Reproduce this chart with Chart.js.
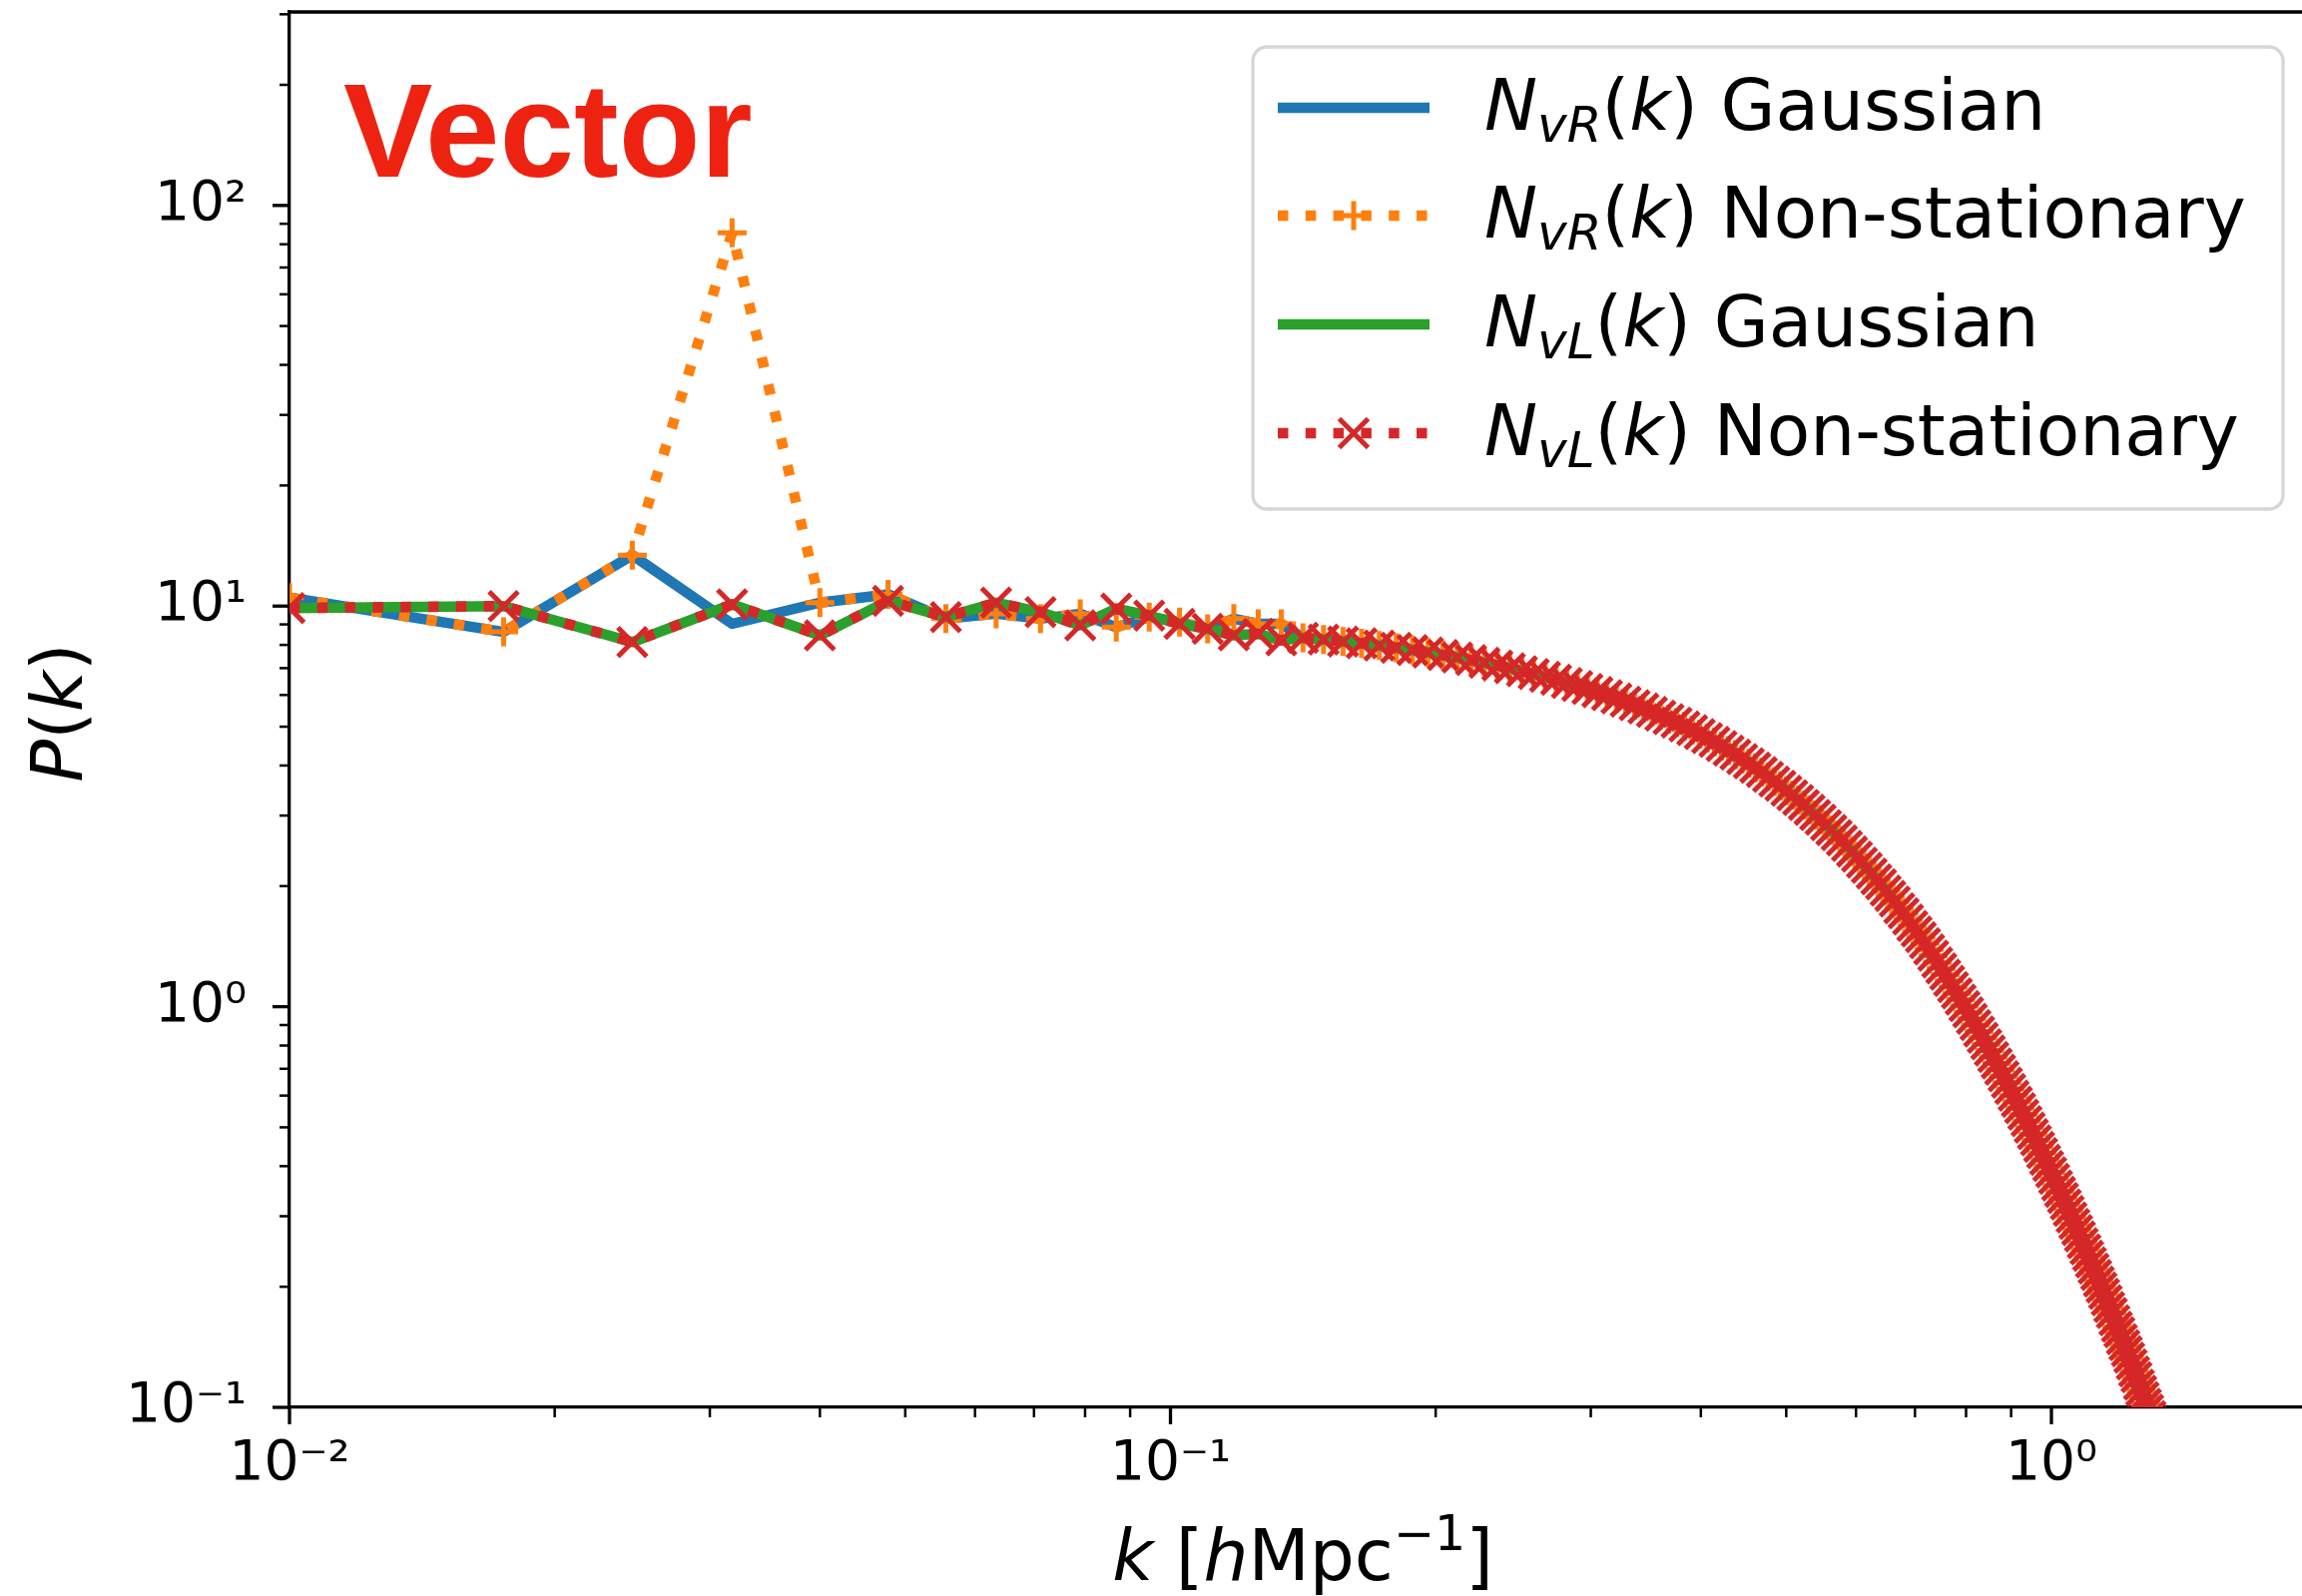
<!DOCTYPE html>
<html>
<head>
<meta charset="utf-8">
<script src="https://cdn.jsdelivr.net/npm/chart.js@4.4.1/dist/chart.umd.min.js"></script>
<style>
  html, body { margin: 0; padding: 0; background: #fff; }
  #wrap { width: 2306px; height: 1599px; }
</style>
</head>
<body>
<div id="wrap"><canvas id="myChart" width="2306" height="1599"></canvas></div>
<script>
// k [h/Mpc] : first bins are a bit irregular, then ~0.0078 spacing
const kLow = [0.0100, 0.0175, 0.0245, 0.0318];
const kGrid = [0.0400, 0.0478, 0.0556, 0.0634, 0.0712, 0.0790, 0.0868, 0.0946, 0.1024, 0.1102,
  0.1180, 0.1258, 0.1336, 0.1414, 0.1492, 0.1570, 0.1648, 0.1726, 0.1804, 0.1882,
  0.1960, 0.2038, 0.2116, 0.2194, 0.2272, 0.2350, 0.2428, 0.2506, 0.2584, 0.2662,
  0.2740, 0.2818, 0.2896, 0.2974, 0.3052, 0.3130, 0.3208, 0.3286, 0.3364, 0.3442,
  0.3520, 0.3598, 0.3676, 0.3754, 0.3832, 0.3910, 0.3988, 0.4066, 0.4144, 0.4222,
  0.4300, 0.4378, 0.4456, 0.4534, 0.4612, 0.4690, 0.4768, 0.4846, 0.4924, 0.5002,
  0.5080, 0.5158, 0.5236, 0.5314, 0.5392, 0.5470, 0.5548, 0.5626, 0.5704, 0.5782,
  0.5860, 0.5938, 0.6016, 0.6094, 0.6172, 0.6250, 0.6328, 0.6406, 0.6484, 0.6562,
  0.6640, 0.6718, 0.6796, 0.6874, 0.6952, 0.7030, 0.7108, 0.7186, 0.7264, 0.7342,
  0.7420, 0.7498, 0.7576, 0.7654, 0.7732, 0.7810, 0.7888, 0.7966, 0.8044, 0.8122,
  0.8200, 0.8278, 0.8356, 0.8434, 0.8512, 0.8590, 0.8668, 0.8746, 0.8824, 0.8902,
  0.8980, 0.9058, 0.9136, 0.9214, 0.9292, 0.9370, 0.9448, 0.9526, 0.9604, 0.9682,
  0.9760, 0.9838, 0.9916, 0.9994, 1.0072, 1.0150, 1.0228, 1.0306, 1.0384, 1.0462,
  1.0540, 1.0618, 1.0696, 1.0774, 1.0852, 1.0930, 1.1008, 1.1086, 1.1164, 1.1242,
  1.1320, 1.1398, 1.1476, 1.1554, 1.1632, 1.1710, 1.1788, 1.1866, 1.1944, 1.2022,
  1.2100, 1.2178, 1.2256, 1.2334, 1.2412, 1.2490, 1.2568, 1.2646, 1.2724, 1.2802,
  1.2880, 1.2958, 1.3036, 1.3114, 1.3192];

// low-k part of each curve (k = 0.0100 ... 0.1336)
const nvrGauss   = [10.5, 8.62, 13.4, 9.03, 10.2, 10.7, 9.30, 9.57, 9.30, 9.57, 8.86, 9.39, 9.12, 8.78, 9.30, 9.03, 9.03];
const nvrNonStat = [10.5, 8.62, 13.4, 85.5, 10.2, 10.7, 9.30, 9.57, 9.30, 9.57, 8.86, 9.39, 9.12, 8.78, 9.30, 9.03, 9.03];
const nvlGauss   = [9.89, 10.0, 8.13, 10.1, 8.45, 10.3, 9.39, 10.2, 9.66, 8.95, 9.85, 9.47, 9.03, 8.78, 8.45, 8.53, 8.21];
const nvlNonStat = [9.89, 10.0, 8.13, 10.1, 8.45, 10.3, 9.39, 10.2, 9.66, 8.95, 9.85, 9.47, 9.03, 8.78, 8.45, 8.53, 8.21];

// high-k part, all four curves lie on top of each other (k = 0.1414 ... 1.3192)
const pTail = [8.33, 8.25, 8.16, 8.07, 7.97, 7.87, 7.77, 7.66,
  7.55, 7.44, 7.33, 7.22, 7.11, 7.00, 6.88, 6.77, 6.66, 6.55,
  6.43, 6.32, 6.21, 6.10, 5.99, 5.88, 5.77, 5.66, 5.55, 5.44,
  5.33, 5.22, 5.12, 5.01, 4.90, 4.79, 4.68, 4.58, 4.47, 4.36,
  4.26, 4.15, 4.05, 3.95, 3.85, 3.75, 3.65, 3.56, 3.46, 3.37,
  3.28, 3.19, 3.10, 3.01, 2.93, 2.84, 2.76, 2.68, 2.60, 2.52,
  2.44, 2.37, 2.29, 2.22, 2.15, 2.08, 2.02, 1.95, 1.89, 1.83,
  1.76, 1.71, 1.65, 1.59, 1.54, 1.49, 1.44, 1.39, 1.34, 1.29,
  1.246, 1.202, 1.160, 1.119, 1.079, 1.041, 1.004, 0.968, 0.933, 0.900,
  0.867, 0.836, 0.806, 0.777, 0.749, 0.722, 0.696, 0.671, 0.646, 0.623,
  0.600, 0.579, 0.558, 0.538, 0.518, 0.499, 0.481, 0.464, 0.447, 0.431,
  0.415, 0.400, 0.386, 0.372, 0.358, 0.345, 0.333, 0.321, 0.309, 0.298,
  0.287, 0.277, 0.267, 0.257, 0.248, 0.239, 0.230, 0.222, 0.214, 0.206,
  0.199, 0.192, 0.185, 0.178, 0.172, 0.165, 0.159, 0.154, 0.148, 0.143,
  0.138, 0.133, 0.128, 0.123, 0.119, 0.114, 0.110, 0.106, 0.102, 0.0987,
  0.0951, 0.0917, 0.0884, 0.0852];

// axis ticks
const xMajor = [0.01, 0.1, 1];
const xMajorLabels = ['10\u207B\u00B2', '10\u207B\u00B9', '10\u2070'];
const xMinor = [0.02, 0.03, 0.04, 0.05, 0.06, 0.07, 0.08, 0.09, 0.2, 0.3, 0.4, 0.5, 0.6, 0.7, 0.8, 0.9];
const yMajor = [0.1, 1, 10, 100];
const yMajorLabels = ['10\u207B\u00B9', '10\u2070', '10\u00B9', '10\u00B2'];
const yMinor = [0.2, 0.3, 0.4, 0.5, 0.6, 0.7, 0.8, 0.9, 2, 3, 4, 5, 6, 7, 8, 9,
  20, 30, 40, 50, 60, 70, 80, 90, 200, 300];

const legendNames = ['Gaussian', 'Non-stationary', 'Gaussian', 'Non-stationary'];
const legendSubs = ['vR', 'vR', 'vL', 'vL'];

const kAll = kLow.concat(kGrid);
function toXY(lowVals) {
  return lowVals.concat(pTail).map((p, i) => ({ x: kAll[i], y: p }));
}

const LW = 10.5;
const DOTS = [10.5, 17.3];
const colors = ['#1f77b4', '#ff7f0e', '#2ca02c', '#d62728'];

function tickLabel(v, majors, labels) {
  for (let i = 0; i < majors.length; i++) {
    if (Math.abs(v - majors[i]) < majors[i] * 1e-6) return labels[i];
  }
  return '';
}

// draws a string made of pieces with their own font / vertical shift
function drawRich(ctx, parts, x, y, align) {
  let total = 0;
  parts.forEach(p => { ctx.font = p[1]; total += ctx.measureText(p[0]).width; });
  let cx = align === 'center' ? x - total / 2 : x;
  parts.forEach(p => {
    ctx.font = p[1];
    ctx.fillText(p[0], cx, y + (p[2] || 0));
    cx += ctx.measureText(p[0]).width;
  });
}

const FF = '"DejaVu Sans"';
const it71 = 'italic 71px ' + FF;
const n71 = '71px ' + FF;
const it50 = 'italic 50px ' + FF;
const n49 = '49px ' + FF;

const extras = {
  id: 'extras',
  afterDraw(chart) {
    const ctx = chart.ctx;
    const area = chart.chartArea;
    const xs = chart.scales.x, ys = chart.scales.y;
    ctx.save();
    ctx.strokeStyle = '#000';
    ctx.lineCap = 'butt';

    // top spine
    ctx.lineWidth = 3.3;
    ctx.beginPath();
    ctx.moveTo(area.left - 1.6, area.top);
    ctx.lineTo(area.right, area.top);
    ctx.stroke();

    // tick marks, major longer than minor
    xs.ticks.forEach(t => {
      const px = xs.getPixelForValue(t.value);
      const major = tickLabel(t.value, xMajor, xMajorLabels) !== '';
      ctx.lineWidth = major ? 3.3 : 2.5;
      ctx.beginPath();
      ctx.moveTo(px, area.bottom);
      ctx.lineTo(px, area.bottom + (major ? 17 : 10));
      ctx.stroke();
    });
    ys.ticks.forEach(t => {
      const py = ys.getPixelForValue(t.value);
      const major = tickLabel(t.value, yMajor, yMajorLabels) !== '';
      ctx.lineWidth = major ? 3.3 : 2.5;
      ctx.beginPath();
      ctx.moveTo(area.left, py);
      ctx.lineTo(area.left - (major ? 17 : 10), py);
      ctx.stroke();
    });

    // axis titles
    ctx.fillStyle = '#000';
    ctx.textBaseline = 'alphabetic';
    ctx.textAlign = 'left';
    drawRich(ctx, [['k', it71], [' [', n71], ['h', it71], ['Mpc', n71], ['\u22121', n49, -30], [']', n71]], 1305, 1583, 'center');
    ctx.save();
    ctx.translate(82, 714);
    ctx.rotate(-Math.PI / 2);
    drawRich(ctx, [['P', it71], ['(', n71], ['k', it71], [')', n71]], 0, 0, 'center');
    ctx.restore();

    // panel tag
    ctx.fillStyle = '#ee2211';
    ctx.font = 'bold 134px "Liberation Sans"';
    ctx.fillText('Vector', 344, 177);

    // legend
    ctx.beginPath();
    ctx.roundRect(1255, 47, 1032, 463, 14);
    ctx.fillStyle = 'rgba(255,255,255,0.8)';
    ctx.fill();
    ctx.lineWidth = 3.3;
    ctx.strokeStyle = '#d6d6d6';
    ctx.stroke();

    const rows = [108, 216, 325, 434];
    rows.forEach((ry, i) => {
      ctx.strokeStyle = colors[i];
      ctx.lineWidth = LW;
      ctx.setLineDash(i % 2 ? DOTS : []);
      ctx.beginPath();
      ctx.moveTo(1280, ry);
      ctx.lineTo(1432, ry);
      ctx.stroke();
      ctx.setLineDash([]);
      ctx.lineWidth = 5;
      if (i === 1) {
        ctx.beginPath();
        ctx.moveTo(1356 - 14.5, ry); ctx.lineTo(1356 + 14.5, ry);
        ctx.moveTo(1356, ry - 14.5); ctx.lineTo(1356, ry + 14.5);
        ctx.stroke();
      } else if (i === 3) {
        ctx.beginPath();
        ctx.moveTo(1356 - 14.5, ry - 14.5); ctx.lineTo(1356 + 14.5, ry + 14.5);
        ctx.moveTo(1356 - 14.5, ry + 14.5); ctx.lineTo(1356 + 14.5, ry - 14.5);
        ctx.stroke();
      }
      ctx.fillStyle = '#000';
      drawRich(ctx, [['N', it71], [legendSubs[i], it50, 12], ['(', n71], ['k', it71], [')', n71], [' ' + legendNames[i], n71]], 1487, ry + 22, 'left');
    });
    ctx.restore();
  }
};

const data = {
  datasets: [
    { label: 'N_vR(k) Gaussian', data: toXY(nvrGauss), borderColor: colors[0], borderWidth: LW,
      pointRadius: 0, order: 4 },
    { label: 'N_vR(k) Non-stationary', data: toXY(nvrNonStat), borderColor: colors[1], borderWidth: LW,
      borderDash: DOTS, pointStyle: 'cross', pointRadius: 14.5, pointBorderWidth: 5,
      pointBorderColor: colors[1], order: 3 },
    { label: 'N_vL(k) Gaussian', data: toXY(nvlGauss), borderColor: colors[2], borderWidth: LW,
      pointRadius: 0, order: 2 },
    { label: 'N_vL(k) Non-stationary', data: toXY(nvlNonStat), borderColor: colors[3], borderWidth: LW,
      borderDash: DOTS, pointStyle: 'crossRot', pointRadius: 20.5, pointBorderWidth: 5,
      pointBorderColor: colors[3], order: 1 }
  ]
};
data.datasets.forEach(d => {
  d.clip = 0;
  d.tension = 0;
  d.fill = false;
  d.borderJoinStyle = 'round';
  d.borderCapStyle = 'butt';
});

const config = {
  type: 'line',
  data: data,
  options: {
    responsive: false,
    animation: false,
    devicePixelRatio: 1,
    events: [],
    layout: { autoPadding: false, padding: { top: 12, right: 0, left: 0, bottom: 0 } },
    plugins: { legend: { display: false }, tooltip: { enabled: false } },
    scales: {
      x: {
        type: 'logarithmic', position: 'bottom', min: 0.01, max: 1.925,
        grid: { display: false, drawTicks: false },
        border: { display: true, color: '#000', width: 3.3 },
        ticks: {
          autoSkip: false, maxRotation: 0, minRotation: 0, padding: 25, color: '#000',
          font: { family: 'DejaVu Sans', size: 55 },
          callback: (v) => tickLabel(v, xMajor, xMajorLabels)
        },
        afterBuildTicks: (s) => { s.ticks = xMajor.concat(xMinor).sort((a, b) => a - b).map(v => ({ value: v })); },
        afterFit: (s) => { s.height = 189; s.paddingLeft = 0; s.paddingRight = 0; }
      },
      y: {
        type: 'logarithmic', position: 'left', min: 0.1, max: 304,
        grid: { display: false, drawTicks: false },
        border: { display: true, color: '#000', width: 3.3 },
        ticks: {
          autoSkip: false, padding: 43, color: '#000',
          font: { family: 'DejaVu Sans', size: 55 },
          callback: (v) => tickLabel(v, yMajor, yMajorLabels)
        },
        afterBuildTicks: (s) => { s.ticks = yMajor.concat(yMinor).sort((a, b) => a - b).map(v => ({ value: v })); },
        afterFit: (s) => { s.width = 290; s.paddingTop = 0; s.paddingBottom = 0; }
      }
    }
  },
  plugins: [extras]
};

const myChart = new Chart(document.getElementById('myChart'), config);
</script>
</body>
</html>
